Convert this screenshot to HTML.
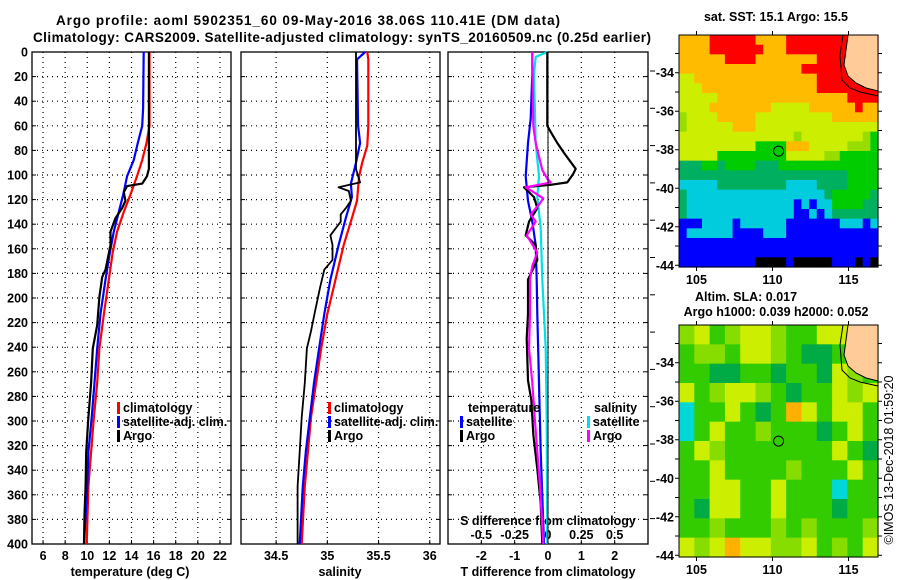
<!DOCTYPE html>
<html><head><meta charset="utf-8"><style>
body{margin:0;background:#fff;}
svg{display:block;font-family:"Liberation Sans",sans-serif;font-weight:bold;}
</style></head><body>
<svg id="fig" width="900" height="580" viewBox="0 0 900 580">
<text x="308" y="25" text-anchor="middle" font-size="13.5" textLength="504">Argo profile: aoml 5902351_60 09-May-2016 38.06S 110.41E (DM data)</text>
<text x="342" y="42" text-anchor="middle" font-size="13.5" textLength="618">Climatology: CARS2009. Satellite-adjusted climatology: synTS_20160509.nc (0.25d earlier)</text>
<g id="g"></g>
</svg>
<script>
// ---- profile data ----
const depthTicks=[0,20,40,60,80,100,120,140,160,180,200,220,240,260,280,300,320,340,360,380,400];
const tempTicks=[6,8,10,12,14,16,18,20,22];
const salTicks=[34.5,35,35.5,36];
const salTickLabels=['34.5','35','35.5','36'];
const dTTicks=[-2,-1,0,1,2];
const dSTicks=[-0.5,-0.25,0,0.25,0.5];
const dSTickLabels=['-0.5','-0.25','0','0.25','0.5'];

const argoTDepth=[0,95,101,107,109,114,121,127,135,146,157,177,183,199,222,241,269,297,325,353,376,400];
const argoTVal=[15.57,15.57,15.4,14.97,13.6,13.3,13.45,13.15,12.55,12.1,12.1,11.65,11.35,11.1,10.9,10.5,10.35,10.1,9.9,9.85,9.75,9.7];
const climTDepth=[0,60,74,88,101,116,130,146,163,185,213,241,269,297,325,353,400];
const climTVal=[15.63,15.63,15.36,14.97,14.5,13.9,13.3,12.7,12.3,11.95,11.5,11.1,10.9,10.6,10.35,10.1,9.95];
const satTDepth=[0,46,60,74,88,101,116,130,146,163,185,213,241,269,297,325,353,400];
const satTVal=[15.1,15.05,14.97,14.57,14.2,13.6,13.25,12.85,12.4,12.05,11.65,11.2,10.9,10.65,10.4,10.1,10.0,9.7];

const argoSDepth=[0,95,101,106,110,113,121,127,132,138,149,157,169,177,191,211,227,241,269,297,325,353,400];
const argoSVal=[35.28,35.28,35.3,35.32,35.11,35.21,35.23,35.18,35.13,35.13,35.03,35.05,35.05,34.97,34.93,34.88,34.84,34.8,34.78,34.75,34.73,34.71,34.71];
const climSDepth=[0,6,60,76,90,101,121,135,157,185,213,241,269,297,325,353,400];
const climSVal=[35.39,35.4,35.4,35.39,35.34,35.31,35.29,35.24,35.16,35.08,35.0,34.94,34.89,34.84,34.81,34.78,34.75];
const satSDepth=[0,6,60,74,90,107,118,135,157,185,213,241,269,297,325,353,400];
const satSVal=[35.37,35.29,35.3,35.32,35.28,35.23,35.24,35.18,35.11,35.03,34.97,34.92,34.87,34.83,34.79,34.76,34.73];

const argoDTDepth=[0,60,65,74,82,95,99,106,108,110,118,127,138,149,157,169,185,213,233,267,283,311,339,367,400];
const argoDTVal=[-0.02,-0.02,0.08,0.28,0.48,0.83,0.76,0.58,0.08,-0.72,-0.42,-0.32,-0.57,-0.67,-0.37,-0.32,-0.6,-0.6,-0.64,-0.6,-0.5,-0.44,-0.32,-0.22,-0.17];
const satDTDepth=[0,18,54,74,101,121,138,157,185,213,269,325,400];
const satDTVal=[-0.47,-0.47,-0.52,-0.6,-0.67,-0.6,-0.47,-0.37,-0.34,-0.32,-0.27,-0.22,-0.12];
const satDSDepth=[0,4,18,74,101,118,143,185,241,297,400];
const satDSVal=[-0.005,-0.0925,-0.105,-0.0925,-0.0675,-0.08,-0.055,-0.0425,-0.0175,-0.01,-0.005];
const argoDSDepth=[0,60,74,96,103,106,110,115,119,124,132,138,149,163,174,185,213,241,269,297,325,353,400];
const argoDSVal=[-0.1175,-0.11,-0.0925,-0.0425,-0.005,0.02,-0.1675,-0.0925,-0.035,-0.0675,-0.13,-0.0925,-0.16,-0.08,-0.1175,-0.135,-0.135,-0.1425,-0.1175,-0.1,-0.08,-0.06,-0.035];

// ---- map data ----
const sstGrid=[
"OOOORRRRRROOOORRRRRRRRRRRR","OOOORRRRRRROOORRRRRRRRRRRR","OOOOOORRRROOOOOOOORRRRRRRR","OOOOOOOOOOOOOOOORRRRRRRRRR",
"YYOOOOOOOOOOOOOOOORRRRRRRR","YYYOOOOOOOOOOOOOOORRRRRRRR","YYYYYOOOOOOOOOOOOOOOOORRRR","YYYYOOOOOOOOYYYYYOOOOOOROO",
"LYYYYOOOOOYYYYYYYYYYOOOOOO","LYYYYYYOOOYYYYYYYYYYYYYYYY","YYYYYYYYYYYYYYYLYYYYYYYYLG","YYYYYYYYYYGGGGOOOYYYYYLLLG",
"YYYYYGGGGGGGGGYYYYYLLGGGGG","TTTGGTGGGGTTTGGGGGGGGGGGGG","TTTTTTTTTTTTTTTTTTTTTTGGGG","CCCCCTTTTTTTTTCCCCTTTTGGGG",
"TCCCCCCCCCCCCCCCCCCTGGGGGT","TCCCCCCCCCCCCCCBCBCCGGGGTT","TCCCCCCCCCCCCCCBBCBCTTTTTT","BBBCCCCBCCCCCCBBBBBBBCCCBC",
"BCCCCCCBBBBCCCBBBBBBBBBBBB","BBBBBBBBBBBBBBBBBBBBBBBBBB","BBBBBBBBBBBBBBBBBBBBBBBBBB","BBBBBBBBBBKKKKBKKKKKBBBKBK"];
const slaGrid=[
"LYGLYYLGGYYGG","GLLGYYLGDDGGG","GGDDGGDGGDYLG","YGLYYLGDGGYLY","CGGYGDGOYGYYG","CGYGGLGGGDGYG",
"GYLGGGGGGGYGD","GGYGGGGLGGGYG","GGYYGGYGGGCGG","GDYYGGYGGGDGG","GGLGGGLGLGGGL","YLYOYYLLYGLGY"];
const lonTicks=[105,110,115];
const latTicks=[-34,-36,-38,-40,-42,-44];
const floatLon=110.4, floatLat=-38.07;

const NS='http://www.w3.org/2000/svg';
const G=document.getElementById('g');
function el(tag,attrs,parent){const e=document.createElementNS(NS,tag);for(const k in attrs)e.setAttribute(k,attrs[k]);(parent||G).appendChild(e);return e;}
function txt(x,y,s,size,anchor,parent){const t=el('text',{x:x,y:y,'font-size':size,'text-anchor':anchor||'middle'},parent);t.textContent=s;return t;}

const TOP=52,BOT=544;
function yD(d){return TOP+(d/400)*(BOT-TOP);}
function makeX(x0,x1,v0,v1){return v=>x0+(v-v0)/(v1-v0)*(x1-x0);}

const panels=[
 {name:'temperature-panel',x0:32,x1:231,v0:5,v1:23},
 {name:'salinity-panel',x0:241,x1:440,v0:34.157,v1:36.1},
 {name:'difference-panel',x0:448,x1:648,v0:-3,v1:3}
];
const xT=makeX(32,231,5,23), xS=makeX(241,440,34.157,36.1), xDT=makeX(448,648,-3,3), xDS=makeX(448,648,-0.75,0.75);

panels.forEach((p,pi)=>{
  const g=el('g',{});
  
  
  depthTicks.forEach(d=>{
    const y=yD(d);
    if(d>0&&d<400){const l=el('line',{x1:p.x0,x2:p.x1,y1:y,y2:y,stroke:'#000','stroke-width':1.2,'stroke-dasharray':'1,4'},g);
      }
    el('line',{x1:p.x0,x2:p.x0+4,y1:y,y2:y,stroke:'#000'},g);
    el('line',{x1:p.x1-4,x2:p.x1,y1:y,y2:y,stroke:'#000'},g);
    if(pi===0){const t=txt(28,y+4.5,String(d),12.5,'end',g);}
  });
  const f=[xT,xS,xDT][pi];
  const ticks=[tempTicks,salTicks,dTTicks][pi];
  ticks.forEach((v,i)=>{
    const x=f(v);
    const l=el('line',{x1:x,x2:x,y1:TOP,y2:BOT,stroke:'#000','stroke-width':1.2,'stroke-dasharray':'1,4'},g);
    
    el('line',{x1:x,x2:x,y1:BOT-4,y2:BOT,stroke:'#000'},g);
    const lab=pi===1?salTickLabels[i]:String(v);
    const t=txt(x,560,lab,12.5,'middle',g);
  });
  const r=el('rect',{x:p.x0,y:TOP,width:p.x1-p.x0,height:BOT-TOP,fill:'none',stroke:'#000','stroke-width':1.3},g);
  
});
dSTicks.forEach((v,i)=>{const t=txt(xDS(v),539,dSTickLabels[i],12.5,'middle');
  
  });
let t;
t=txt(548,525,'S difference from climatology',12.5);
t=txt(130,576,'temperature (deg C)',12.5);
t=txt(340,576,'salinity',12.5);
t=txt(548,576,'T difference from climatology',12.5);

function series(depths,vals,fx,color,name,w){
  const pts=depths.map((d,i)=>fx(vals[i]).toFixed(1)+','+yD(d).toFixed(1)).join(' ');
  const p=el('polyline',{points:pts,fill:'none',stroke:color,'stroke-width':w||2.2,'stroke-linejoin':'round'});
  
  
}
series(climTDepth,climTVal,xT,'#ff0000','climatology-temperature-line');
series(satTDepth,satTVal,xT,'#0000ff','satellite-temperature-line');
series(argoTDepth,argoTVal,xT,'#000','argo-temperature-line');
series(climSDepth,climSVal,xS,'#ff0000','climatology-salinity-line');
series(satSDepth,satSVal,xS,'#0000ff','satellite-salinity-line');
series(argoSDepth,argoSVal,xS,'#000','argo-salinity-line',1.8);
series(satDSDepth,satDSVal,xDS,'#00e0e8','satellite-s-diff-line');
series(satDTDepth,satDTVal,xDT,'#0000ff','satellite-t-diff-line');
series(argoDTDepth,argoDTVal,xDT,'#000','argo-t-diff-line');
series(argoDSDepth,argoDSVal,xDS,'#ff00ff','argo-s-diff-line');
el('line',{x1:xDT(0),x2:xDT(0),y1:TOP,y2:BOT,stroke:'#000','stroke-width':1});

function legend(x,y,color,label,name){
  const g=el('g',{});
  
  
  el('rect',{x:x,y:y-10,width:3,height:12,fill:color},g);
  txt(x+6,y,label,12.5,'start',g);
}
legend(117,412,'#ff0000','climatology','legend-climatology-temp');
legend(117,426,'#0000ff','satellite-adj. clim.','legend-satellite-temp');
legend(117,440,'#000','Argo','legend-argo-temp');
legend(328,412,'#ff0000','climatology','legend-climatology-sal');
legend(328,426,'#0000ff','satellite-adj. clim.','legend-satellite-sal');
legend(328,440,'#000','Argo','legend-argo-sal');
t=txt(468,412,'temperature',12.5,'start');
t=txt(594,412,'salinity',12.5,'start');
legend(460,426,'#0000ff','satellite','legend-satellite-t-diff');
legend(460,440,'#000','Argo','legend-argo-t-diff');
legend(587,426,'#00e0e8','satellite','legend-satellite-s-diff');
legend(587,440,'#ff00ff','Argo','legend-argo-s-diff');

// ---- maps ----
const sstColors={R:'#ff0000',O:'#ffbb00',Y:'#ccee00',L:'#99dd00',G:'#00cc00',T:'#00b060',C:'#00ccdd',B:'#0000ff',K:'#000000'};
const slaColors={G:'#33cc00',D:'#00aa44',Y:'#ccee00',L:'#88dd00',O:'#ffb000',C:'#00d8d8'};
const MX0=679,MX1=878,LON0=103.85,LON1=116.94,LAT0=-32.04,LAT1=-44.09;
function drawMap(top,grid,colors,name,title,floatFill){
  const bot=top+232;
  const lx=makeX(MX0,MX1,LON0,LON1), ly=makeX(top,bot,LAT0,LAT1);
  const g=el('g',{});
  
  
  const rows=grid.length, cols=grid[0].length, cw=(MX1-MX0)/cols, ch=(bot-top)/rows;
  grid.forEach((row,ri)=>{for(let ci=0;ci<cols;ci++){
    el('rect',{x:(MX0+ci*cw).toFixed(2),y:(top+ri*ch).toFixed(2),width:(cw+0.6).toFixed(2),height:(ch+0.6).toFixed(2),fill:colors[row[ci]]},g);
  }});
  const o=top-35;
  const land=el('polygon',{points:`848,${35+o} 846,${50+o} 844,${65+o} 848,${76+o} 856,${83+o} 866,${88+o} 878,${91+o} 878,${35+o}`,fill:'#ffcc99'},g);
  
  
  el('polyline',{points:`843,${35+o} 840,${55+o} 842,${80+o} 850,${88+o} 860,${92+o} 878,${96+o}`,fill:'none',stroke:'#000','stroke-width':1},g);
  el('polyline',{points:`848,${35+o} 846,${50+o} 844,${65+o} 848,${76+o} 856,${83+o} 866,${88+o} 878,${91+o}`,fill:'none',stroke:'#000','stroke-width':1},g);
  const c=el('circle',{cx:lx(floatLon),cy:ly(floatLat),r:5,fill:floatFill,stroke:'#000','stroke-width':1},g);
  
  
  el('rect',{x:MX0,y:top,width:MX1-MX0,height:bot-top,fill:'none',stroke:'#000','stroke-width':1},g);
  lonTicks.forEach(v=>{const x=lx(v);el('line',{x1:x,x2:x,y1:bot,y2:bot+4,stroke:'#000'},g);el('line',{x1:x,x2:x,y1:top-4,y2:top,stroke:'#000'},g);
    const tt=txt(x,bot+17,String(v),12.5,'middle',g);});
  for(let v=-33;v>=-44;v--){const y=ly(v);el('line',{x1:MX0-4,x2:MX0,y1:y,y2:y,stroke:'#000'},g);el('line',{x1:MX1,x2:MX1+4,y1:y,y2:y,stroke:'#000'},g);}
  latTicks.forEach(v=>{const tt=txt(674,ly(v)+4.5,String(v),12.5,'end',g);});
  title.forEach((s,i)=>{const tt=txt(s[1],s[2],s[0],12.5,'middle',g);});
}
drawMap(35,sstGrid,sstColors,'sst-map',[['sat. SST: 15.1 Argo: 15.5',776,21]],'#00cc00');
drawMap(325,slaGrid,slaColors,'sla-map',[['Altim. SLA: 0.017',746,301],['Argo h1000: 0.039 h2000: 0.052',776,316]],'#33cc00');
for(let i=0;i<13;i++){const y=71+i*37.3;if(y<300||y>320)el('line',{x1:650,x2:655,y1:y,y2:y,stroke:'#000'});}
const cr=txt(0,0,'©IMOS 13-Dec-2018 01:59:20',12.5,'middle');
cr.setAttribute('transform','translate(893,460) rotate(-90)');
cr.setAttribute('font-weight','normal');


</script>
</body></html>
